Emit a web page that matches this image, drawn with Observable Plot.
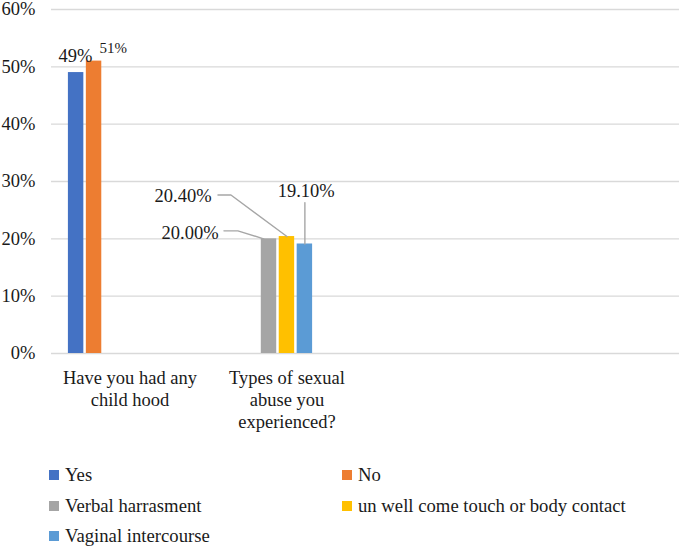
<!DOCTYPE html>
<html>
<head>
<meta charset="utf-8">
<script src="https://cdn.jsdelivr.net/npm/d3@7"></script>
<script src="https://cdn.jsdelivr.net/npm/@observablehq/plot@0.6"></script>
<style>
  body { margin: 0; background: #fff; font-family: "Liberation Serif", "Times New Roman", serif; color: #1a1a1a; }
  #chart svg { display: block; }
  .legend { position: relative; height: 108px; font-size: 18.7px; }
  .legend .item { position: absolute; display: flex; align-items: center; height: 30px; line-height: 30px; white-space: nowrap; }
  .legend .sw { width: 10px; height: 10px; margin-right: 6px; }
</style>
</head>
<body>
<div id="chart"></div>
<div class="legend" id="legend"></div>
<script>
// ---- data ----
const categories = ["Have you had any child hood", "Types of sexual abuse you experienced?", "", " "];
const categoryLabels = ["Have you had any\nchild hood", "Types of sexual\nabuse you\nexperienced?", "", ""];
const series = ["Yes", "No", "Verbal harrasment", "un well come touch or body contact", "Vaginal intercourse"];
const seriesCategory = [0, 0, 1, 1, 1];
const values = [49, 51, 20.0, 20.4, 19.1];
const valueLabels = ["49%", "51%", "20.00%", "20.40%", "19.10%"];
const colors = ["#4472C4", "#ED7D31", "#A5A5A5", "#FFC000", "#5B9BD5"];
const yTicks = [0, 10, 20, 30, 40, 50, 60];

// ---- layout (annotation placement, in slot units / percent) ----
const labelX = [0.46, 2.57, -1.9, -2.29, 4.57];
const labelY = [51.8, 53.2, 21.0, 27.5, 28.4];
const labelSize = [18.5, 15, 18.5, 18.5, 18.5];
const leaders = [
  {s: 3, pts: [[-0.344, 27.65], [0.378, 27.65], [3.5, 20.4]]},
  {s: 2, pts: [[-0.011, 21.39], [0.767, 21.39], [2.2, 20.0]]},
  {s: 4, pts: [[4.5, 26.3], [4.5, 19.1]]}
];

const bars = series.map((s, i) => ({
  series: s, cat: categories[seriesCategory[i]], slot: i, value: values[i], color: colors[i]
}));
const labels = series.map((s, i) => ({
  cat: categories[seriesCategory[i]], x: labelX[i], y: labelY[i], text: valueLabels[i], size: labelSize[i]
}));
const leaderRows = leaders.flatMap((l, j) => l.pts.map(([x, y]) => ({
  id: j, cat: categories[seriesCategory[l.s]], x, y
})));
const gridRows = categories.flatMap(c => yTicks.map(v => ({cat: c, v})));
const labelMap = new Map(categories.map((c, i) => [c, categoryLabels[i]]));

const chart = Plot.plot({
  width: 685,
  height: 440,
  marginLeft: 50,
  marginRight: 5,
  marginTop: 9,
  marginBottom: 87,
  style: {fontFamily: "'Liberation Serif', 'Times New Roman', serif", fontSize: "18.5px", color: "#1a1a1a", background: "#fff"},
  fx: {domain: categories, padding: 0, axis: null},
  x: {domain: [-0.872, 7.878], axis: null},
  y: {domain: [0, 60], ticks: yTicks, tickFormat: d => d + "%", tickSize: 0, tickPadding: 16, label: null},
  marks: [
    Plot.ruleY(gridRows, {fx: "cat", y: "v", stroke: "#d9d9d9", strokeWidth: 1.4}),
    Plot.rectY(bars, {fx: "cat", x1: d => d.slot + 0.07, x2: d => d.slot + 0.93, y1: 0, y2: "value", fill: "color"}),
    Plot.line(leaderRows, {fx: "cat", x: "x", y: "y", z: "id", stroke: "#a6a6a6", strokeWidth: 1.4}),
    Plot.text(labels, {fx: "cat", x: "x", y: "y", text: "text", fontSize: "size", fill: "#1a1a1a"}),
    Plot.axisFx({anchor: "bottom", tickSize: 0, tickPadding: 15, tickFormat: d => labelMap.get(d), lineHeight: 1.18, fontSize: 18.5, label: null})
  ]
});
document.getElementById("chart").appendChild(chart);

// ---- legend ----
const legendPos = [[49, 20], [342, 20], [49, 51], [342, 51], [49, 81]];
const legend = document.getElementById("legend");
series.forEach((s, i) => {
  const it = document.createElement("div");
  it.className = "item";
  it.style.left = legendPos[i][0] + "px";
  it.style.top = legendPos[i][1] + "px";
  it.innerHTML = `<span class="sw" style="background:${colors[i]}"></span><span>${s}</span>`;
  legend.appendChild(it);
});
</script>
</body>
</html>
